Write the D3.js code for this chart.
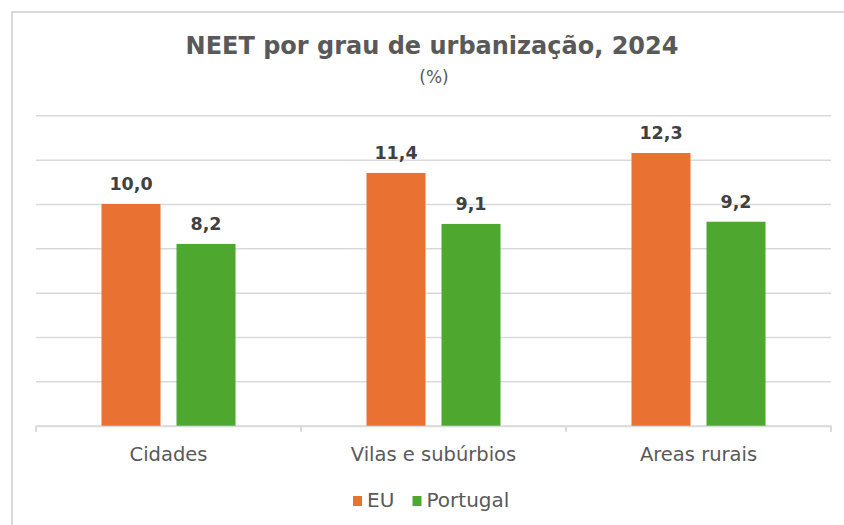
<!DOCTYPE html>
<html>
<head>
<meta charset="utf-8">
<script src="https://cdn.jsdelivr.net/npm/d3@7"></script>
<style>
  html, body { margin: 0; padding: 0; background: #fff; }
  svg { display: block; font-family: "DejaVu Sans", sans-serif; }
</style>
</head>
<body>
<div id="chart"></div>
<script>
// data
var categories = ['Cidades', 'Vilas e subúrbios', 'Areas rurais'];
var series = ['EU', 'Portugal'];
var euValues = [10.0, 11.4, 12.3];
var ptValues = [8.2, 9.1, 9.2];
var gridTicks = [2, 4, 6, 8, 10, 12, 14];
var colors = { EU: '#E97132', Portugal: '#4EA72E' };

var width = 844, height = 525;
var plotLeft = 36, plotRight = 831, plotTop = 115.3, plotBottom = 425.7;

var svg = d3.select('#chart').append('svg').attr('width', width).attr('height', height);

// outer frame of the chart
svg.append('rect')
  .attr('x', 12).attr('y', 12)
  .attr('width', width + 10).attr('height', height + 10)
  .attr('fill', '#fff').attr('stroke', '#d9d9d9').attr('stroke-width', 2);

var x0 = d3.scaleBand().domain(categories).range([plotLeft, plotRight]).padding(0);
var x1 = d3.scaleBand().domain(series).range([0, x0.bandwidth()])
  .paddingInner(0.2133).paddingOuter(0.873);
var y = d3.scaleLinear().domain([0, 14]).range([plotBottom, plotTop]);

// gridlines
var grid = svg.append('g')
  .attr('transform', 'translate(' + plotLeft + ',0)')
  .call(d3.axisLeft(y).tickValues(gridTicks).tickSize(-(plotRight - plotLeft)).tickFormat(''));
grid.select('.domain').remove();
grid.selectAll('line').attr('stroke', '#d9d9d9').attr('stroke-width', 1.5);

// category axis
var xAxis = svg.append('g')
  .attr('transform', 'translate(0,' + plotBottom + ')')
  .call(d3.axisBottom(x0).tickSize(0).tickFormat(''));
xAxis.select('.domain').attr('stroke', '#d9d9d9').attr('stroke-width', 2);

var bounds = categories.map(function(c) { return x0(c); }).concat([x0.range()[1]]);
svg.append('g').selectAll('line')
  .data(bounds)
  .enter()
  .append('line')
  .attr('x1', function(d) { return d; })
  .attr('x2', function(d) { return d; })
  .attr('y1', plotBottom)
  .attr('y2', plotBottom + 6)
  .attr('stroke', '#d9d9d9')
  .attr('stroke-width', 2);

svg.append('g').selectAll('text')
  .data(categories)
  .enter()
  .append('text')
  .attr('x', function(d) { return x0(d) + x0.bandwidth() / 2; })
  .attr('y', 461)
  .attr('text-anchor', 'middle')
  .attr('font-size', '19.5px')
  .attr('fill', '#595959')
  .text(function(d) { return d; });

// bars
var rows = categories.map(function(c, i) {
  return { category: c, values: [{ key: 'EU', value: euValues[i] }, { key: 'Portugal', value: ptValues[i] }] };
});

var groups = svg.append('g').selectAll('g')
  .data(rows)
  .enter()
  .append('g')
  .attr('transform', function(d) { return 'translate(' + x0(d.category) + ',0)'; });

groups.selectAll('rect')
  .data(function(d) { return d.values; })
  .enter()
  .append('rect')
  .attr('x', function(d) { return x1(d.key); })
  .attr('y', function(d) { return y(d.value); })
  .attr('width', x1.bandwidth())
  .attr('height', function(d) { return y(0) - y(d.value); })
  .attr('fill', function(d) { return colors[d.key]; });

groups.selectAll('text')
  .data(function(d) { return d.values; })
  .enter()
  .append('text')
  .attr('x', function(d) { return x1(d.key) + x1.bandwidth() / 2; })
  .attr('y', function(d) { return y(d.value) - 14; })
  .attr('text-anchor', 'middle')
  .attr('font-size', '17.5px')
  .attr('font-weight', 'bold')
  .attr('fill', '#404040')
  .text(function(d) { return d.value.toFixed(1).replace('.', ','); });

// title
svg.append('text')
  .attr('x', 432).attr('y', 54)
  .attr('text-anchor', 'middle')
  .attr('font-size', '24px')
  .attr('font-weight', 'bold')
  .attr('fill', '#595959')
  .text('NEET por grau de urbanização, 2024');

svg.append('text')
  .attr('x', 434).attr('y', 83)
  .attr('text-anchor', 'middle')
  .attr('font-size', '17px')
  .attr('fill', '#595959')
  .text('(%)');

// legend
var legendItems = [
  { key: 'EU', x: 353 },
  { key: 'Portugal', x: 412.5 }
];
var legend = svg.append('g').selectAll('g')
  .data(legendItems)
  .enter()
  .append('g')
  .attr('transform', function(d) { return 'translate(' + d.x + ',0)'; });

legend.append('rect')
  .attr('x', 0).attr('y', 496)
  .attr('width', 9).attr('height', 10)
  .attr('fill', function(d) { return colors[d.key]; });

legend.append('text')
  .attr('x', 14).attr('y', 507)
  .attr('font-size', '20px')
  .attr('fill', '#595959')
  .text(function(d) { return d.key; });
</script>
</body>
</html>
